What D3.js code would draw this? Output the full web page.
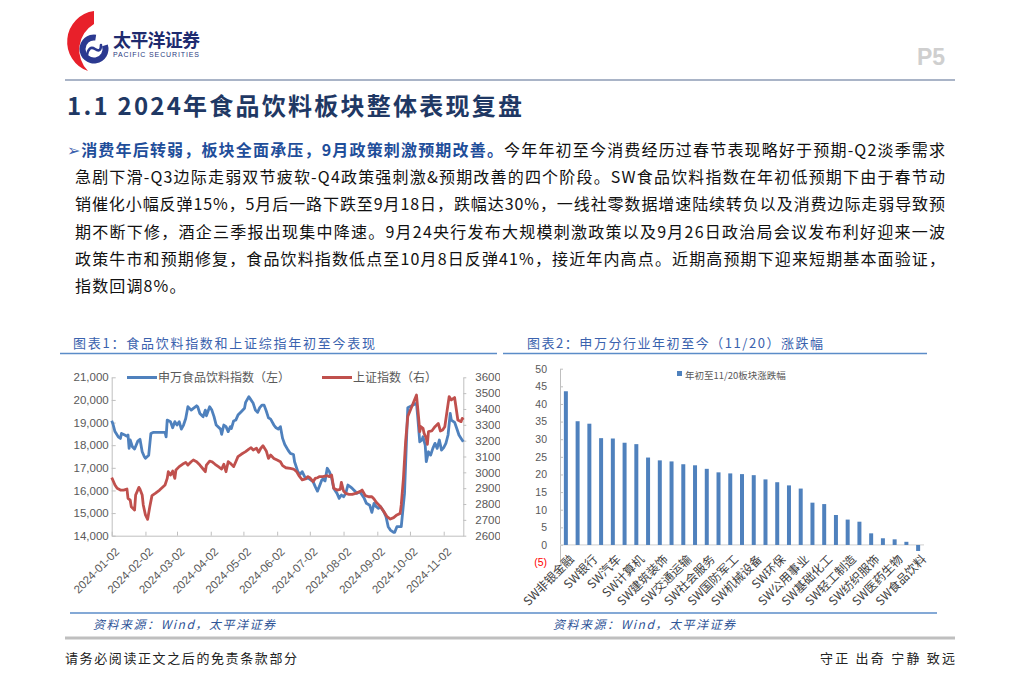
<!DOCTYPE html>
<html>
<head>
<meta charset="utf-8">
<script src="https://d3js.org/d3.v7.min.js"></script>
<style>
  body { margin: 0; background: #fff; }
  svg { display: block; }
</style>
</head>
<body>
<div id="page"></div>
<script>
// ---- chart 1: SW food & beverage index (left) vs Shanghai composite (right)
var foodDates = ["2024-01-02","2024-01-03","2024-01-05","2024-01-08","2024-01-10","2024-01-11","2024-01-14","2024-01-16","2024-01-17","2024-01-18","2024-01-19","2024-01-21","2024-01-23","2024-01-26","2024-01-28","2024-01-30","2024-02-01","2024-02-02","2024-02-05","2024-02-07","2024-02-09","2024-02-20","2024-02-21","2024-02-22","2024-02-25","2024-02-27","2024-02-29","2024-03-02","2024-03-04","2024-03-06","2024-03-08","2024-03-10","2024-03-12","2024-03-15","2024-03-17","2024-03-20","2024-03-21","2024-03-23","2024-03-26","2024-03-28","2024-03-29","2024-04-01","2024-04-03","2024-04-05","2024-04-07","2024-04-11","2024-04-12","2024-04-14","2024-04-16","2024-04-18","2024-04-20","2024-04-21","2024-04-23","2024-04-25","2024-04-27","2024-04-30","2024-05-03","2024-05-04","2024-05-07","2024-05-08","2024-05-11","2024-05-13","2024-05-15","2024-05-17","2024-05-19","2024-05-21","2024-05-23","2024-05-25","2024-05-27","2024-05-30","2024-06-01","2024-06-03","2024-06-05","2024-06-07","2024-06-09","2024-06-12","2024-06-14","2024-06-17","2024-06-18","2024-06-21","2024-06-23","2024-06-25","2024-06-28","2024-07-01","2024-07-03","2024-07-05","2024-07-07","2024-07-09","2024-07-11","2024-07-13","2024-07-14","2024-07-16","2024-07-18","2024-07-20","2024-07-22","2024-07-24","2024-07-27","2024-07-29","2024-07-31","2024-08-02","2024-08-04","2024-08-06","2024-08-08","2024-08-10","2024-08-13","2024-08-14","2024-08-17","2024-08-19","2024-08-21","2024-08-23","2024-08-26","2024-08-28","2024-08-30","2024-09-01","2024-09-03","2024-09-05","2024-09-08","2024-09-10","2024-09-12","2024-09-14","2024-09-17","2024-09-18","2024-09-20","2024-09-22","2024-09-24","2024-09-27","2024-09-29","2024-09-30","2024-10-08","2024-10-09","2024-10-11","2024-10-13","2024-10-14","2024-10-16","2024-10-17","2024-10-19","2024-10-21","2024-10-23","2024-10-25","2024-10-27","2024-10-29","2024-10-31","2024-11-02","2024-11-04","2024-11-06","2024-11-08","2024-11-09","2024-11-12","2024-11-14","2024-11-16","2024-11-18","2024-11-20"];
var foodIndex = [19080,18960,18600,18370,18300,18520,18450,18400,18450,17860,18230,17930,17830,18180,18260,17710,17490,17420,17560,18520,18565,18565,18370,19110,19040,18770,19040,18890,19040,18710,18890,19180,19700,19550,19630,19740,19700,19400,19260,19550,19300,19700,19550,19260,18890,18710,18480,18890,18820,18600,18820,18740,19070,19110,19330,19480,19630,19890,20140,20070,19850,19550,19450,19660,19770,19770,19510,19210,19150,18890,18770,18710,18820,18300,18030,17780,17640,17590,17270,16830,16710,16830,16530,16530,16460,16390,16170,15970,16210,16460,16500,16420,16980,16830,16560,16090,15870,15650,15800,15720,15870,16240,16170,16090,15940,15870,15940,15800,15650,15430,15350,15030,15430,15280,15210,15280,15060,14840,14400,14250,14150,14150,14400,14400,14400,15870,18450,19650,19850,19330,18150,18230,18370,18000,17270,17710,17560,17860,18080,17860,18230,17780,17890,18080,18450,19400,19110,19010,18740,18450,18300,18150];

var shDates = ["2024-01-02","2024-01-03","2024-01-05","2024-01-07","2024-01-10","2024-01-13","2024-01-16","2024-01-17","2024-01-19","2024-01-20","2024-01-23","2024-01-24","2024-01-27","2024-01-28","2024-01-30","2024-01-31","2024-02-02","2024-02-04","2024-02-06","2024-02-08","2024-02-11","2024-02-15","2024-02-20","2024-02-22","2024-02-23","2024-02-25","2024-02-27","2024-02-29","2024-03-01","2024-03-04","2024-03-07","2024-03-10","2024-03-12","2024-03-15","2024-03-17","2024-03-20","2024-03-23","2024-03-26","2024-03-28","2024-03-29","2024-04-01","2024-04-03","2024-04-06","2024-04-09","2024-04-12","2024-04-14","2024-04-16","2024-04-18","2024-04-20","2024-04-23","2024-04-25","2024-04-27","2024-04-30","2024-05-04","2024-05-07","2024-05-09","2024-05-11","2024-05-14","2024-05-16","2024-05-18","2024-05-20","2024-05-23","2024-05-25","2024-05-27","2024-05-30","2024-06-02","2024-06-05","2024-06-07","2024-06-10","2024-06-14","2024-06-17","2024-06-20","2024-06-22","2024-06-25","2024-06-28","2024-06-30","2024-07-02","2024-07-05","2024-07-07","2024-07-09","2024-07-11","2024-07-14","2024-07-18","2024-07-20","2024-07-22","2024-07-24","2024-07-27","2024-07-30","2024-07-31","2024-08-02","2024-08-04","2024-08-07","2024-08-10","2024-08-13","2024-08-17","2024-08-19","2024-08-22","2024-08-25","2024-08-28","2024-08-30","2024-09-01","2024-09-05","2024-09-08","2024-09-11","2024-09-14","2024-09-17","2024-09-20","2024-09-23","2024-09-24","2024-09-26","2024-09-28","2024-09-30","2024-10-08","2024-10-10","2024-10-11","2024-10-12","2024-10-14","2024-10-15","2024-10-17","2024-10-18","2024-10-19","2024-10-22","2024-10-25","2024-10-28","2024-10-30","2024-11-01","2024-11-03","2024-11-05","2024-11-07","2024-11-09","2024-11-12","2024-11-13","2024-11-15","2024-11-18","2024-11-19","2024-11-20"];
var shIndex = [2966,2952,2920,2899,2888,2888,2895,2836,2825,2783,2762,2857,2905,2893,2857,2794,2731,2703,2783,2853,2867,2888,2920,2962,3004,2983,3008,2962,3015,3036,3051,3063,3046,3067,3078,3067,3046,3021,3004,3046,3071,3067,3051,3036,3021,3051,3004,3067,3057,3036,3067,3099,3114,3131,3147,3156,3141,3152,3126,3152,3168,3135,3088,3109,3088,3078,3067,3042,3029,3025,3021,3004,2979,2952,2958,2973,2966,2941,2962,2966,2973,2973,2979,2973,2983,2899,2888,2893,2937,2882,2867,2861,2861,2867,2878,2888,2853,2846,2846,2832,2811,2783,2752,2720,2705,2714,2731,2741,2794,2962,3194,3352,3488,3341,3257,3288,3278,3246,3215,3177,3257,3261,3288,3309,3261,3267,3288,3383,3478,3457,3472,3425,3330,3320,3341,3331];

var leftTicks = [14000,15000,16000,17000,18000,19000,20000,21000];
var rightTicks = [2600,2700,2800,2900,3000,3100,3200,3300,3400,3500,3600];
var monthTicks = ["2024-01-02","2024-02-02","2024-03-02","2024-04-02","2024-05-02","2024-06-02","2024-07-02","2024-08-02","2024-09-02","2024-10-02","2024-11-02"];
var lineNames = ["申万食品饮料指数（左）", "上证指数（右）"];

// ---- chart 2: SW industries YTD change to 11/20 (%)
var industries = ["SW非银金融","SW家用电器","SW银行","SW通信","SW汽车","SW电子","SW计算机","SW商贸零售","SW建筑装饰","SW综合","SW交通运输","SW传媒","SW社会服务","SW有色金属","SW国防军工","SW钢铁","SW机械设备","SW电力设备","SW环保","SW房地产","SW公用事业","SW建筑材料","SW基础化工","SW石油石化","SW轻工制造","SW美容护理","SW纺织服饰","SW农林牧渔","SW医药生物","SW煤炭","SW食品饮料"];
var ytdChange = [43.6,35.1,34.4,30.3,30.2,29.0,28.6,24.8,24.0,23.7,22.9,22.6,21.6,20.6,20.3,20.1,19.8,18.6,17.8,16.9,16.0,12.0,11.6,8.5,7.2,6.6,3.3,1.9,1.6,0.9,-1.7];
var barTicks = [-5,0,5,10,15,20,25,30,35,40,45,50];
var barLegend = "年初至11/20板块涨跌幅";

// ---- page text
var heading = "1.1 2024年食品饮料板块整体表现复盘";
var leadBold = "消费年后转弱，板块全面承压，9月政策刺激预期改善。";
var bodyLines = [
  "今年年初至今消费经历过春节表现略好于预期-Q2淡季需求",
  "急剧下滑-Q3边际走弱双节疲软-Q4政策强刺激&预期改善的四个阶段。SW食品饮料指数在年初低预期下由于春节动",
  "销催化小幅反弹15%，5月后一路下跌至9月18日，跌幅达30%，一线社零数据增速陆续转负以及消费边际走弱导致预",
  "期不断下修，酒企三季报出现集中降速。9月24央行发布大规模刺激政策以及9月26日政治局会议发布利好迎来一波",
  "政策牛市和预期修复，食品饮料指数低点至10月8日反弹41%，接近年内高点。近期高预期下迎来短期基本面验证，",
  "指数回调8%。"
];

var CJK = "'Noto Sans CJK SC', sans-serif";
var LAT = "'Liberation Sans', Arial, sans-serif";
var blue = "#4F81BD", red = "#C0504D", navy = "#1F3864", titleBlue = "#3A62AE";

var svg = d3.select("#page").append("svg").attr("width", 1024).attr("height", 686);
svg.append("rect").attr("width", 1024).attr("height", 686).attr("fill", "#fff");

// stretch a text element to a width with letter-spacing
function fit(t, width) {
  var n = t.text().length;
  var len = t.node().getComputedTextLength();
  var sp = (width - len) / (n - 1);
  t.attr("letter-spacing", sp);
  return sp;
}

// ---- header
var logo = svg.append("g");
logo.append("path")
  .attr("d", "M94,11 A31,31 0 0 0 88,71 A30,30 0 0 1 94,24 Z")
  .attr("fill", "#E8202A");
logo.append("path")
  .attr("transform", "translate(94,49)")
  .attr("d", d3.arc().innerRadius(8.5).outerRadius(14.5).startAngle(1.25).endAngle(2 * Math.PI + 0.15)())
  .attr("fill", "#2B3990");
logo.append("path")
  .attr("d", "M87,55 Q89,45 95,49 T101,45")
  .attr("fill", "none").attr("stroke", "#2B3990").attr("stroke-width", 2.6).attr("stroke-linecap", "round");

var brand = svg.append("text").attr("x", 113).attr("y", 47)
  .style("font-family", CJK).style("font-size", "18px").style("font-weight", "bold")
  .attr("fill", "#1E2B6F").text("太平洋证券");
fit(brand, 87);
var brandEn = svg.append("text").attr("x", 113).attr("y", 57)
  .style("font-family", LAT).style("font-size", "7px").attr("fill", "#2B3A80").text("PACIFIC SECURITIES");
fit(brandEn, 86);

svg.append("text").attr("x", 917).attr("y", 65)
  .style("font-family", LAT).style("font-size", "23px").style("font-weight", "bold")
  .attr("fill", "#cfcfcf").text("P5");

svg.append("line").attr("x1", 65).attr("x2", 955).attr("y1", 80).attr("y2", 80)
  .attr("stroke", "#8C9BB5").attr("stroke-width", 1.5);

// ---- heading and paragraph
var h = svg.append("text").attr("x", 67).attr("y", 115)
  .style("font-family", CJK).style("font-size", "24px").style("font-weight", "bold")
  .attr("fill", navy).text(heading);
fit(h, 455);

var lineY = 156, lineGap = 27.2, lastSp = 1.5;
bodyLines.forEach(function (s, i) {
  var t = svg.append("text").attr("x", i === 0 ? 67 : 75).attr("y", lineY + i * lineGap)
    .style("font-family", CJK).style("font-size", "16px").attr("fill", "#111");
  if (i === 0) {
    t.append("tspan").attr("fill", titleBlue).text("➢");
    t.append("tspan").attr("fill", "#1F4E9A").style("font-weight", "bold").text(leadBold);
    t.append("tspan").text(s);
  } else {
    t.text(s);
  }
  if (i < bodyLines.length - 1) {
    lastSp = fit(t, 945 - (i === 0 ? 67 : 75));
  } else {
    t.attr("letter-spacing", lastSp);
  }
});

// ---- chart titles, rules, sources
var t1 = svg.append("text").attr("x", 73).attr("y", 348)
  .style("font-family", CJK).style("font-size", "13px").attr("fill", titleBlue)
  .text("图表1：食品饮料指数和上证综指年初至今表现");
fit(t1, 302);
var t2 = svg.append("text").attr("x", 527).attr("y", 348)
  .style("font-family", CJK).style("font-size", "13px").attr("fill", titleBlue)
  .text("图表2：申万分行业年初至今（11/20）涨跌幅");
fit(t2, 296);
[[60, 497], [503, 927]].forEach(function (r) {
  svg.append("line").attr("x1", r[0]).attr("x2", r[1]).attr("y1", 353.5).attr("y2", 353.5)
    .attr("stroke", "#5B8CC8").attr("stroke-width", 1.5);
});
svg.append("line").attr("x1", 70).attr("x2", 937).attr("y1", 613).attr("y2", 613)
  .attr("stroke", "#5B8CC8").attr("stroke-width", 1.5);
[93, 553].forEach(function (x) {
  var s = svg.append("text").attr("x", x).attr("y", 629)
    .style("font-family", CJK).style("font-size", "12px").style("font-style", "italic")
    .attr("fill", "#2F5597").text("资料来源：Wind，太平洋证券");
  fit(s, 182);
});
svg.append("line").attr("x1", 65).attr("x2", 955).attr("y1", 638).attr("y2", 638)
  .attr("stroke", "#bfbfbf").attr("stroke-width", 3);
var f1 = svg.append("text").attr("x", 65).attr("y", 663)
  .style("font-family", CJK).style("font-size", "13px").attr("fill", "#222").text("请务必阅读正文之后的免责条款部分");
fit(f1, 232);
var f2 = svg.append("text").attr("x", 820).attr("y", 663)
  .style("font-family", CJK).style("font-size", "13px").attr("fill", "#222").text("守正 出奇 宁静 致远");
fit(f2, 135);

// ---- chart 1
var parse = d3.timeParse("%Y-%m-%d");
var x1 = d3.scaleTime().domain([parse("2024-01-02"), parse("2024-11-20")]).range([111.7, 463.3]);
var yL = d3.scaleLinear().domain([14000, 21000]).range([535.7, 377.3]);
var yR = d3.scaleLinear().domain([2600, 3600]).range([535.7, 377.3]);

svg.append("clipPath").attr("id", "c1").append("rect").attr("x", 0).attr("y", 340).attr("width", 500).attr("height", 280);
var g1 = svg.append("g").attr("clip-path", "url(#c1)");

function styleAxis(g) {
  g.select(".domain").attr("stroke", "#bfbfbf");
  g.selectAll(".tick line").attr("stroke", "#bfbfbf");
  g.selectAll("text").attr("fill", "#595959").style("font-family", LAT).style("font-size", "11.5px");
}

g1.append("g").attr("transform", "translate(111.7,0)")
  .call(d3.axisLeft(yL).tickValues(leftTicks).tickFormat(d3.format(",")).tickSize(-4).tickSizeOuter(0).tickPadding(3))
  .call(styleAxis);
g1.append("g").attr("transform", "translate(463.3,0)")
  .call(d3.axisRight(yR).tickValues(rightTicks).tickFormat(d3.format("d")).tickSize(3).tickSizeOuter(0).tickPadding(9))
  .call(styleAxis);
var xa = g1.append("g").attr("transform", "translate(0,535.7)")
  .call(d3.axisBottom(x1).tickValues(monthTicks.map(parse)).tickFormat(d3.timeFormat("%Y-%m-%d")).tickSize(-4).tickSizeOuter(0))
  .call(styleAxis);
xa.selectAll("text").attr("x", 0).attr("y", 0).attr("dy", "0.35em")
  .attr("transform", "translate(5,14) rotate(-45)").style("text-anchor", "end");

var foodLine = d3.line().x(function (d, i) { return x1(parse(foodDates[i])); }).y(function (d) { return yL(d); });
var shLine = d3.line().x(function (d, i) { return x1(parse(shDates[i])); }).y(function (d) { return yR(d); });
g1.append("path").attr("d", foodLine(foodIndex)).attr("fill", "none").attr("stroke", blue)
  .attr("stroke-width", 2.8).attr("stroke-linejoin", "round");
g1.append("path").attr("d", shLine(shIndex)).attr("fill", "none").attr("stroke", red)
  .attr("stroke-width", 2.8).attr("stroke-linejoin", "round");

// legend
[[127, blue], [322, red]].forEach(function (l, i) {
  svg.append("line").attr("x1", l[0]).attr("x2", l[0] + 30).attr("y1", 377.5).attr("y2", 377.5)
    .attr("stroke", l[1]).attr("stroke-width", 3);
  svg.append("text").attr("x", l[0] + 31).attr("y", 381.5)
    .style("font-family", CJK).style("font-size", "12px").attr("fill", "#595959").text(lineNames[i]);
});

// ---- chart 2
var x2 = d3.scaleBand().domain(industries).range([560, 924]).paddingInner(0.66).paddingOuter(0.33);
var y2 = d3.scaleLinear().domain([-5, 50]).range([562.6, 368.7]);

var ya = svg.append("g").attr("transform", "translate(560,0)")
  .call(d3.axisLeft(y2).tickValues(barTicks).tickSize(-3).tickSizeOuter(0).tickPadding(13)
    .tickFormat(function (d) { return d < 0 ? "(" + (-d) + ")" : d; }))
  .call(styleAxis);
ya.selectAll("text").style("font-size", "10.5px")
  .attr("fill", function (d) { return d < 0 ? "#FF0000" : "#595959"; });

svg.append("line").attr("x1", 560).attr("x2", 924).attr("y1", y2(0)).attr("y2", y2(0))
  .attr("stroke", "#d9d9d9").attr("stroke-width", 1.2);

svg.selectAll(".bar").data(ytdChange).enter().append("rect")
  .attr("x", function (d, i) { return x2(industries[i]); })
  .attr("width", x2.bandwidth())
  .attr("y", function (d) { return y2(Math.max(0, d)); })
  .attr("height", function (d) { return Math.abs(y2(d) - y2(0)); })
  .attr("fill", blue);

svg.selectAll(".blab").data(industries.filter(function (d, i) { return i % 2 === 0; })).enter().append("text")
  .attr("transform", function (d) { return "translate(" + (x2(d) + x2.bandwidth() / 2 + 6) + ",557) rotate(-45)"; })
  .attr("text-anchor", "end").attr("dy", "0.35em")
  .style("font-family", CJK).style("font-size", "12px").attr("fill", "#404040")
  .text(function (d) { return d; });

svg.append("rect").attr("x", 677).attr("y", 371).attr("width", 5).attr("height", 5).attr("fill", blue);
svg.append("text").attr("x", 685).attr("y", 378.5)
  .style("font-family", CJK).style("font-size", "9.5px").attr("fill", "#595959").text(barLegend);
</script>
</body>
</html>
